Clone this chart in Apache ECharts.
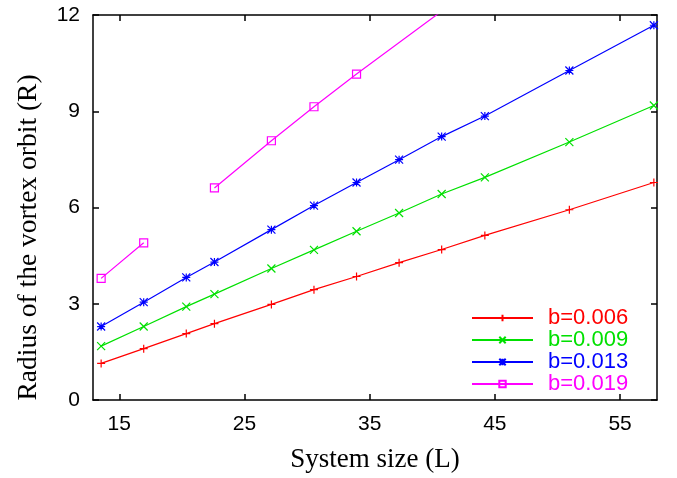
<!DOCTYPE html>
<html>
<head>
<meta charset="utf-8">
<script src="https://cdn.jsdelivr.net/npm/echarts@6/dist/echarts.min.js"></script>
<style>html,body{margin:0;padding:0;background:#fff}#c{width:677px;height:478px}</style>
</head>
<body>
<div id="c"></div>
<script>
// System sizes L
const sizes = [13.55, 16.95, 20.35, 22.6, 27.15, 30.55, 33.95, 37.35, 40.75, 44.2, 50.95, 57.7];
const r006 = [1.14, 1.60, 2.07, 2.38, 2.98, 3.44, 3.85, 4.28, 4.69, 5.13, 5.93, 6.78];
const r009 = [1.68, 2.29, 2.91, 3.30, 4.10, 4.68, 5.26, 5.83, 6.42, 6.94, 8.04, 9.18];
const r013 = [2.29, 3.05, 3.82, 4.30, 5.31, 6.06, 6.78, 7.49, 8.21, 8.85, 10.27, 11.68];
const sizes019 = [13.55, 16.95, 20.35, 22.6, 27.15, 30.55, 33.95, 40.75];
const r019 = [3.79, 4.90, null, 6.61, 8.08, 9.14, 10.16, 12.12];
const seriesNames = ['b=0.006', 'b=0.009', 'b=0.013', 'b=0.019'];
const xTicks = [15, 25, 35, 45, 55];
const yTicks = [0, 3, 6, 9, 12];

const colors = ['#ff0000', '#00e000', '#0000ff', '#ff00ff'];
const PLUS = 'path://M5 0 L5 10 M0 5 L10 5';
const CROSS = 'path://M0 0 L10 10 M10 0 L0 10';
const STAR = 'path://M5 0 L5 10 M0 5 L10 5 M0 0 L10 10 M10 0 L0 10';
const SQUARE = 'path://M0 0 L10 0 L10 10 L0 10 Z';
const symbols = [PLUS, CROSS, STAR, SQUARE];

function pairs(xs, ys) { return xs.map((x, i) => [x, ys[i]]); }
const datasets = [pairs(sizes, r006), pairs(sizes, r009), pairs(sizes, r013), pairs(sizes019, r019)];

const chart = echarts.init(document.getElementById('c'), null, {renderer: 'canvas'});
const axisLine = {show: true, onZero: false, lineStyle: {color: '#000', width: 1.5}};
const tickStyle = {color: '#000', width: 1.5};
const option = {
  animation: false,
  backgroundColor: '#fff',
  grid: {left: 93, right: 20, top: 15, bottom: 76, containLabel: false},
  xAxis: [{
    type: 'value', min: 12.9, max: 57.95, position: 'bottom',
    name: 'System size (L)', nameLocation: 'middle', nameGap: 46,
    nameTextStyle: {fontFamily: 'Liberation Serif', fontSize: 27, color: '#000'},
    axisLine: axisLine,
    axisTick: {show: true, inside: true, length: 6, lineStyle: tickStyle, customValues: xTicks},
    axisLabel: {show: true, customValues: xTicks, fontFamily: 'Liberation Sans', fontSize: 21, color: '#000', margin: 14},
    splitLine: {show: false}
  }, {
    type: 'value', min: 12.9, max: 57.95, position: 'top',
    axisLine: axisLine,
    axisTick: {show: true, inside: true, length: 6, lineStyle: tickStyle, customValues: xTicks},
    axisLabel: {show: false}, splitLine: {show: false}
  }],
  yAxis: [{
    type: 'value', min: 0, max: 12, interval: 3, position: 'left',
    name: 'Radius of the vortex orbit (R)', nameLocation: 'middle', nameGap: 50,
    nameTextStyle: {fontFamily: 'Liberation Serif', fontSize: 27.5, color: '#000', padding: [0, 60, 0, 0]},
    axisLine: axisLine,
    axisTick: {show: true, inside: true, length: 6, lineStyle: tickStyle},
    axisLabel: {fontFamily: 'Liberation Sans', fontSize: 21, color: '#000', margin: 13},
    splitLine: {show: false}
  }, {
    type: 'value', min: 0, max: 12, interval: 3, position: 'right',
    axisLine: axisLine,
    axisTick: {show: true, inside: true, length: 6, lineStyle: tickStyle},
    axisLabel: {show: false}, splitLine: {show: false}
  }],
  legend: {
    orient: 'vertical', left: 466, top: 302, itemGap: 0,
    itemWidth: 61, itemHeight: 8,
    data: seriesNames.map((n, i) => ({name: n, textStyle: {color: colors[i]}})),
    textStyle: {fontFamily: 'Liberation Sans', fontSize: 22, lineHeight: 22, padding: [0, 0, 0, 10]}
  },
  series: seriesNames.map((n, i) => ({
    name: n, type: 'line', xAxisIndex: 0, yAxisIndex: 0,
    data: datasets[i],
    symbol: symbols[i], symbolSize: 8, showSymbol: true,
    connectNulls: false, clip: true,
    lineStyle: {color: colors[i], width: 1.2},
    itemStyle: {color: i === 3 ? 'rgba(0,0,0,0)' : colors[i], borderColor: colors[i], borderWidth: 1.2},
    emphasis: {disabled: true}
  }))
};
chart.setOption(option);
</script>
</body>
</html>
